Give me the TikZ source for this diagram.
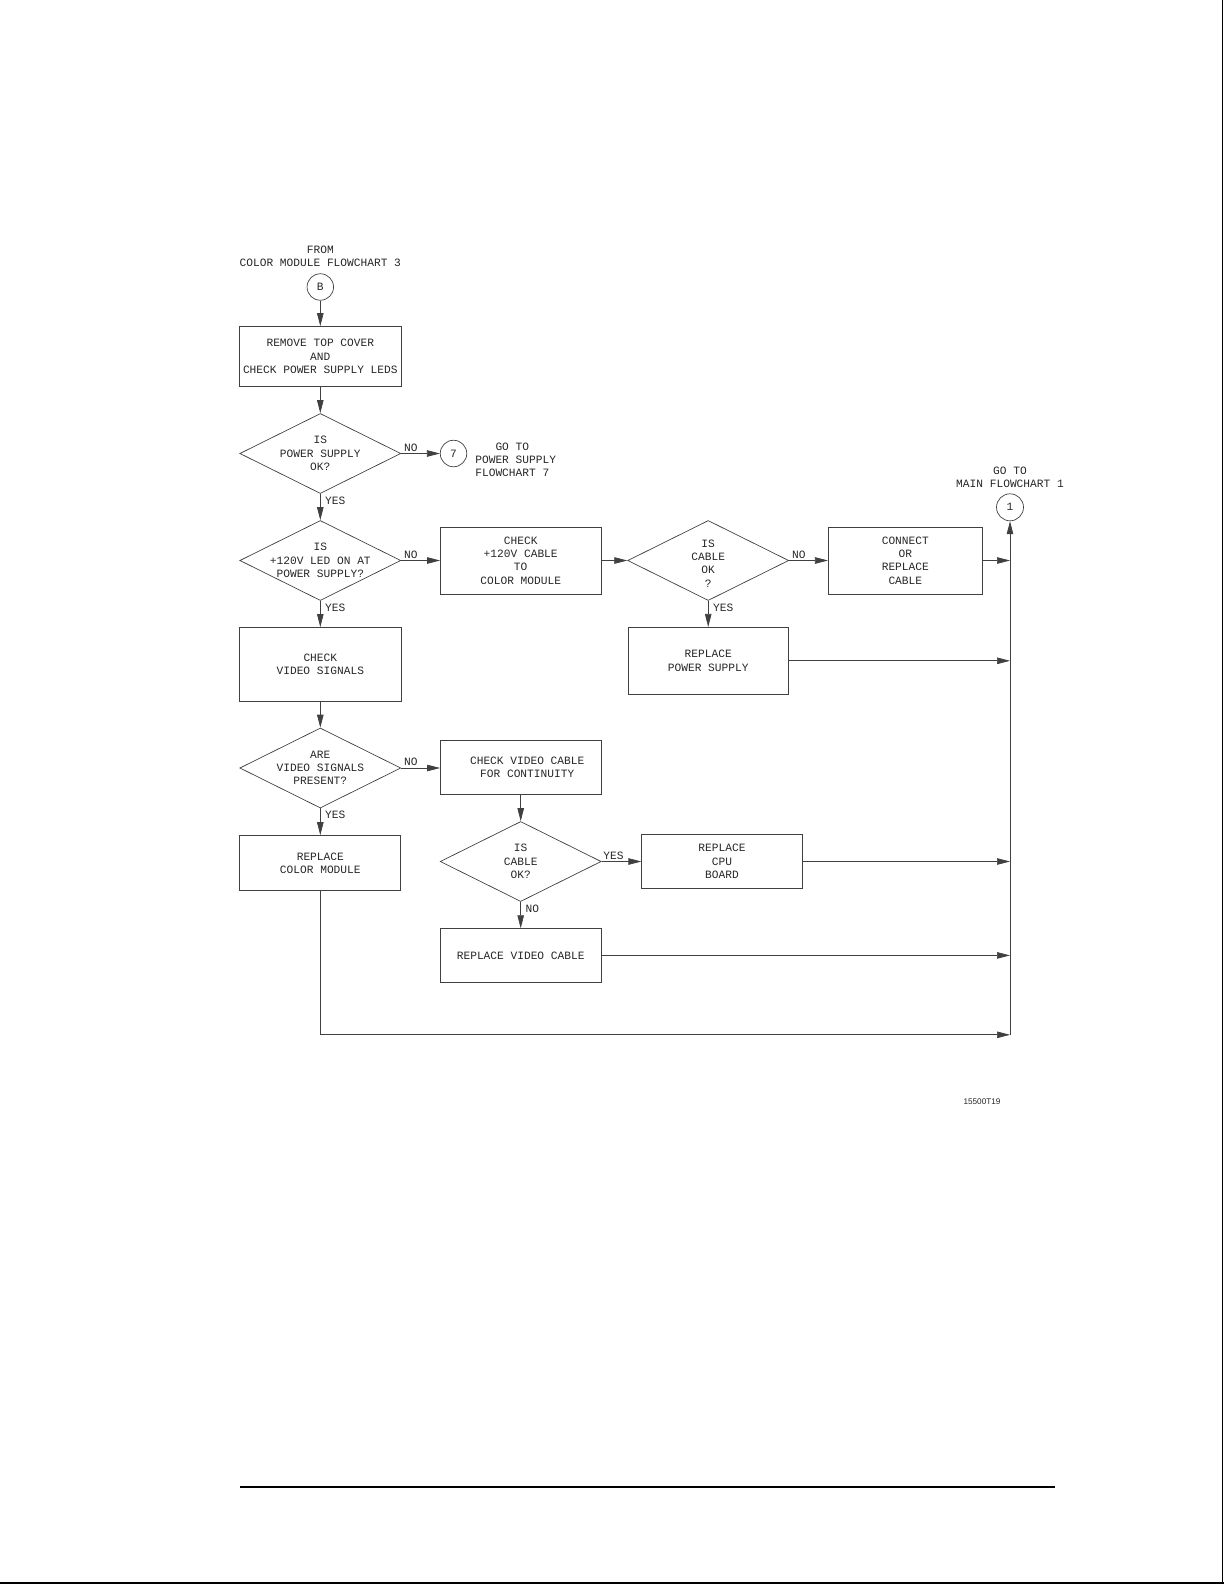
\documentclass[tikz,border=0pt]{standalone}
\usepackage{fontspec}
\setmonofont{Liberation Mono}
\setsansfont{Liberation Sans}
\usepackage{tikz}
\usetikzlibrary{shapes.geometric}
\usetikzlibrary{arrows.meta}
\usetikzlibrary{calc}
\tikzset{
every picture/.style={line width=0.7pt, draw=black!75,
                       >={Triangle[length=13pt,width=6.5pt]}},
%%%%%%%%%%  Node styles
txt/.style={font=\ttfamily\fontsize{11.2}{13.3}\selectfont, text=black!85,
            align=center},
process/.style={draw, txt, inner sep=0pt, minimum width=160.5pt,
                minimum height=53.5pt},
decision/.style={diamond, draw, inner sep=0pt, minimum width=161pt,
                 minimum height=80pt},
connector/.style={circle, draw, txt, inner sep=0pt, minimum size=26.5pt},
answer/.style={txt, inner sep=2pt},
yes/.style={answer, right, inner xsep=4.5pt},
%%%%%%% page marks
figno/.style={font=\sffamily\fontsize{8.2}{9}\selectfont, text=black!85}
}

\begin{document}
\begin{tikzpicture}[x=1pt,y=-1pt]
\useasboundingbox (0,0) rectangle (1224,1584);
%%%%% entry
\node[txt] (from) at (320.3,256.5) {FROM\\COLOR MODULE FLOWCHART 3};
\node[connector] (cB) at (320.3,287) {B};
\node[process, minimum width=161.5pt, minimum height=60pt] (rmv)
  at (320.3,356.5) {REMOVE TOP COVER\\AND\\CHECK POWER SUPPLY LEDS};
\node[decision, label={[txt]center:{IS\\POWER SUPPLY\\OK?}}] (dpsu)
  at (320.3,453.5) {};
\node[connector] (c7) at (453.5,453.5) {7};
\node[txt, align=left, anchor=west, inner sep=0pt] (gops) at (475,460)
  {\ \ \ GO TO\\POWER SUPPLY\\FLOWCHART 7};
%%%%% +120V branch
\node[decision, label={[txt]center:{IS\\+120V LED ON AT\\POWER SUPPLY?}}] (d120)
  at (320.3,560.5) {};
\node[process, minimum height=66.7pt] (chk120) at (520.7,560.5)
  {CHECK\\+120V CABLE\\TO\\COLOR MODULE};
\node[decision, label={[txt, yshift=-3pt]center:{IS\\CABLE\\OK\\?}}] (dcab)
  at (708.2,560.5) {};
\node[process, minimum width=154pt, minimum height=66.7pt] (conn)
  at (905.3,560.5) {CONNECT\\OR\\REPLACE\\CABLE};
\node[process, minimum height=67pt] (rps) at (708.2,660.8)
  {REPLACE\\POWER SUPPLY};
\node[txt] (gomain) at (1010,477.5) {GO TO\\MAIN FLOWCHART 1};
\node[connector, minimum size=27pt] (c1) at (1010,507.3) {1};
%%%%% video branch
\node[process, minimum width=161.5pt, minimum height=74pt] (chkvid)
  at (320.3,664.4) {CHECK\\VIDEO SIGNALS};
\node[decision, label={[txt]center:{ARE\\VIDEO SIGNALS\\PRESENT?}}] (dvid)
  at (320.3,768) {};
\node[process] (chkvc) at (520.7,767.5)
  {\hspace*{13pt}CHECK VIDEO CABLE\\\hspace*{13pt}FOR CONTINUITY};
\node[process, minimum width=161pt, minimum height=55pt] (rcm)
  at (320.3,863) {REPLACE\\COLOR MODULE};
\node[decision, label={[txt]center:{IS\\CABLE\\OK?}}] (dvc)
  at (520.7,861.5) {};
\node[process] (rcpu) at (722,861.5) {REPLACE\\CPU\\BOARD};
\node[process] (rvc) at (520.7,955.4) {REPLACE VIDEO CABLE};
\coordinate (jbot) at (1010,1034.8);
%%%%% connectors
\draw[->] (cB) -- (rmv);
\draw[->] (rmv) -- (dpsu);
\draw[->] (dpsu) -- node[answer, pos=0.25, above] {NO} (c7);
\draw[->] (dpsu) -- node[yes, pos=0.25] {YES} (d120);
\draw[->] (d120) -- node[answer, pos=0.25, above] {NO} (chk120);
\draw[->] (chk120) -- (chk120.east -| dcab.west);
\draw[->] (dcab) -- node[answer, pos=0.25, above] {NO} (conn.west |- dcab);
\draw[->] (dcab) -- node[yes, pos=0.25] {YES} (rps);
\draw[->] (d120) -- node[yes, pos=0.25] {YES} (chkvid);
\draw[->] (chkvid) -- (dvid);
\draw[->] (dvid) -- node[answer, pos=0.25, above] {NO} (chkvc.west |- dvid);
\draw[->] (dvid) -- node[yes, pos=0.25] {YES} (rcm);
\draw[->] (chkvc) -- (dvc);
\draw[->] (dvc) -- node[answer, pos=0.3, above] {YES} (rcpu);
\draw[->] (dvc) -- node[yes, pos=0.25] {NO} (rvc);
%%%%% return line
\draw[->] (rcm.south) |- (jbot);
\draw[->] (jbot) -- (c1);
\draw[->] (conn.east) -- (conn.east -| jbot);
\draw[->] (rps.east) -- (rps.east -| jbot);
\draw[->] (rcpu.east) -- (rcpu.east -| jbot);
\draw[->] (rvc.east) -- (rvc.east -| jbot);
%%%%% page marks
\node[figno] (fig) at (982,1102) {15500T19};
\coordinate (ruleL) at (239.5,1487);
\coordinate (ruleR) at (1055,1487);
\draw[line width=1.3pt, black] (ruleL) -- (ruleR);
\draw[line width=1.2pt, black] (1222.6,0) -- (1222.6,1584);
\draw[line width=1.2pt, black] (0,1583) -- (1224,1583);
\end{tikzpicture}
\end{document}
